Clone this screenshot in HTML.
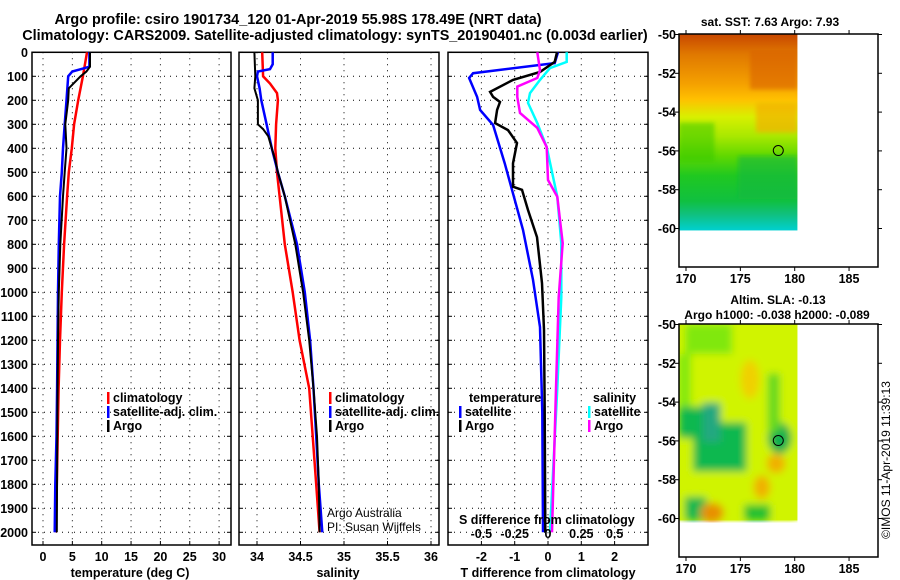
<!DOCTYPE html>
<html><head><meta charset="utf-8">
<style>
html,body{margin:0;padding:0;background:#fff;}
svg{display:block;font-family:"Liberation Sans",Arial,sans-serif;font-weight:bold;}
</style></head>
<body>
<svg id="chart" width="900" height="580" viewBox="0 0 900 580" xmlns="http://www.w3.org/2000/svg">
<defs>
<filter id="blur" x="0" y="0" width="1" height="1"><feGaussianBlur stdDeviation="4"/></filter>
<filter id="blur2" x="0" y="0" width="1" height="1"><feGaussianBlur stdDeviation="2"/></filter>
</defs>
<text x="298" y="24" font-size="14.4" text-anchor="middle">Argo profile: csiro 1901734_120 01-Apr-2019 55.98S 178.49E (NRT data)</text>
<text x="335" y="40" font-size="14.4" text-anchor="middle">Climatology: CARS2009. Satellite-adjusted climatology: synTS_20190401.nc (0.003d earlier)</text>
<g id="p1"></g>
<g id="p2"></g>
<g id="p3"></g>
<g id="m1"></g>
<g id="m2"></g>
<text transform="translate(890,460) rotate(-90)" font-size="12" font-weight="normal" text-anchor="middle">©IMOS 11-Apr-2019 11:39:13</text>
</svg>
<script>
// ---- data ----
const tArgoDepth=[0,60,80,100,150,200,300,400,500,600,800,1000,1200,1500,2000];
const tArgo=[8.0,8.0,7.4,6.4,4.4,4.3,3.8,4.0,3.7,3.4,2.95,2.7,2.55,2.45,2.35];
const tSatDepth=[0,60,70,80,100,200,300,400,500,600,800,1000,1400,1600,1800,2000];
const tSat=[7.9,7.9,6.5,5.0,4.3,4.0,3.7,3.4,3.2,2.9,2.7,2.55,2.4,2.3,2.1,2.0];
const tClimDepth=[0,100,200,300,400,500,600,800,1000,1200,1400,1600,2000];
const tClim=[7.5,6.8,6.0,5.3,4.9,4.4,4.1,3.6,3.2,2.9,2.65,2.5,2.2];

const sArgoDepth=[0,100,150,200,300,320,350,400,450,500,600,800,1000,1200,1400,1600,1800,2000];
const sArgo=[33.97,33.98,33.97,34.01,34.01,34.07,34.13,34.17,34.21,34.24,34.32,34.44,34.53,34.6,34.65,34.69,34.71,34.72];
const sSatDepth=[0,50,70,80,100,150,200,300,400,500,600,800,1000,1200,1400,1600,1800,2000];
const sSat=[34.18,34.18,34.15,34.01,34.0,34.03,34.05,34.11,34.17,34.24,34.32,34.46,34.55,34.61,34.65,34.68,34.71,34.75];
const sClimDepth=[0,100,130,170,200,300,400,500,600,800,1000,1200,1400,1600,1800,2000];
const sClim=[34.06,34.07,34.15,34.23,34.24,34.22,34.21,34.23,34.26,34.32,34.41,34.49,34.6,34.64,34.68,34.72];

const dtSatDepth=[0,45,87,107,186,240,303,462,573,740,948,1145,1500,2000];
const dtSat=[0.3,0.2,-2.25,-2.37,-2.13,-2.04,-1.65,-1.3,-1.08,-0.75,-0.45,-0.24,-0.17,-0.15];
const dtArgoDepth=[0,40,82,115,165,186,207,240,295,324,378,462,560,573,657,770,962,1157,1500,2000];
const dtArgo=[0.27,0.2,-0.24,-1.05,-1.74,-1.65,-1.44,-1.53,-1.59,-1.2,-0.93,-1.05,-1.05,-0.78,-0.6,-0.33,-0.18,-0.12,-0.1,-0.08];
const dsSatDepth=[0,40,66,115,170,211,295,395,602,795,1020,1400,2000];
const dsSat=[0.14,0.14,0.015,-0.06,-0.135,-0.15,-0.08,-0.01,0.07,0.1,0.1,0.07,0.015];
const dsArgoDepth=[0,74,107,143,186,253,315,395,532,602,795,1020,1400,2000];
const dsArgo=[-0.08,-0.06,-0.08,-0.23,-0.23,-0.21,-0.08,-0.01,0.0,0.07,0.11,0.08,0.06,0.03];

const depthTicks=[0,100,200,300,400,500,600,700,800,900,1000,1100,1200,1300,1400,1500,1600,1700,1800,1900,2000];
const tTicks=[0,5,10,15,20,25,30];
const sTicks=[34,34.5,35,35.5,36];
const sTickLabels=["34","34.5","35","35.5","36"];
const dtTicks=[-2,-1,0,1,2];
const dsTicks=[-0.5,-0.25,0,0.25,0.5];
const dsTickLabels=["-0.5","-0.25","0","0.25","0.5"];
const latTicks=[-50,-52,-54,-56,-58,-60];
const lonTicks=[170,175,180,185];
const floatLon=178.49, floatLat=-55.98;

// ---- helpers ----
const NS="http://www.w3.org/2000/svg";
function mk(parent,tag,attrs,text){const e=document.createElementNS(NS,tag);for(const k in attrs)e.setAttribute(k,attrs[k]);if(text!==undefined)e.textContent=text;parent.appendChild(e);return e;}
const TOP=52.3, BOT=545, PXM=0.24;
const yD=d=>TOP+d*PXM;

function panel(g,x0,x1,xs,xt,xtl,showDepth){
  const fr=mk(g,'rect',{x:x0,y:TOP,width:x1-x0,height:BOT-TOP,fill:'none',stroke:'#000','stroke-width':1.5});
  
  depthTicks.forEach(d=>{
    const y=yD(d);
    if(d>0){const l=mk(g,'line',{x1:x0,x2:x1,y1:y,y2:y,stroke:'#000','stroke-dasharray':'1,5','stroke-width':1});
    }
    mk(g,'line',{x1:x0,x2:x0+4,y1:y,y2:y,stroke:'#000'});
    mk(g,'line',{x1:x1-4,x2:x1,y1:y,y2:y,stroke:'#000'});
    if(showDepth){const t=mk(g,'text',{x:28,y:y+4.5,'font-size':12.5,'text-anchor':'end'},String(d));
    }
  });
  xt.forEach((v,i)=>{
    const x=xs(v);
    const l=mk(g,'line',{x1:x,x2:x,y1:TOP,y2:BOT,stroke:'#000','stroke-dasharray':'1,5','stroke-width':1});
    
    mk(g,'line',{x1:x,x2:x,y1:BOT-4,y2:BOT,stroke:'#000'});
    if(xtl){const t=mk(g,'text',{x:x,y:561,'font-size':12.5,'text-anchor':'middle'},xtl[i]);
    }
  });
}
function line(g,xs,depths,vals,color,name,w){
  const pts=depths.map((d,i)=>xs(vals[i]).toFixed(1)+','+yD(d).toFixed(1)).join(' ');
  const p=mk(g,'polyline',{points:pts,fill:'none',stroke:color,'stroke-width':w||2.5,'stroke-linejoin':'miter'});
  
  
}
function legend(g,x,y,color,label){
  mk(g,'rect',{x:x,y:y-10,width:2.5,height:12,fill:color});
  const t=mk(g,'text',{x:x+6,y:y,'font-size':12.5},label);
  
  
}

// Panel 1 temperature
const p1=document.getElementById('p1');
const xT=v=>43+5.87*v;
panel(p1,32,231,xT,tTicks,tTicks.map(String),true);
line(p1,xT,tClimDepth,tClim,'#f00','temp-climatology-line');
line(p1,xT,tSatDepth,tSat,'#00f','temp-satellite-line');
line(p1,xT,tArgoDepth,tArgo,'#000','temp-argo-line',2);
legend(p1,107,402,'#f00','climatology');
legend(p1,107,416,'#00f','satellite-adj. clim.');
legend(p1,107,430,'#000','Argo');
let t=mk(p1,'text',{x:130,y:577,'font-size':12.5,'text-anchor':'middle'},'temperature (deg C)');


// Panel 2 salinity
const p2=document.getElementById('p2');
const xS=v=>257+87*(v-34);
panel(p2,239,439,xS,sTicks,sTickLabels,false);
line(p2,xS,sClimDepth,sClim,'#f00','sal-climatology-line');
line(p2,xS,sSatDepth,sSat,'#00f','sal-satellite-line');
line(p2,xS,sArgoDepth,sArgo,'#000','sal-argo-line',2);
legend(p2,329,402,'#f00','climatology');
legend(p2,329,416,'#00f','satellite-adj. clim.');
legend(p2,329,430,'#000','Argo');
t=mk(p2,'text',{x:327,y:517,'font-size':12,'font-weight':'normal'},'Argo Australia');

t=mk(p2,'text',{x:327,y:531,'font-size':12,'font-weight':'normal'},'PI: Susan Wijffels');

t=mk(p2,'text',{x:338,y:577,'font-size':12.5,'text-anchor':'middle'},'salinity');


// Panel 3 differences
const p3=document.getElementById('p3');
const xDT=v=>548+33.3*v;
const xDS=v=>548+133.3*v;
panel(p3,448,648,xDT,dtTicks,dtTicks.map(String),false);
line(p3,xDT,dtSatDepth,dtSat,'#00f','tdiff-satellite-line');
line(p3,xDT,dtArgoDepth,dtArgo,'#000','tdiff-argo-line');
line(p3,xDS,dsSatDepth,dsSat,'#0ff','sdiff-satellite-line');
line(p3,xDS,dsArgoDepth,dsArgo,'#f0f','sdiff-argo-line');
t=mk(p3,'text',{x:469,y:402,'font-size':12.5},'temperature');

legend(p3,459,416,'#00f','satellite');
legend(p3,459,430,'#000','Argo');
t=mk(p3,'text',{x:593,y:402,'font-size':12.5},'salinity');

legend(p3,588,416,'#0ff','satellite');
legend(p3,588,430,'#f0f','Argo');
t=mk(p3,'text',{x:459,y:524,'font-size':12.5},'S difference from climatology');

dsTicks.forEach((v,i)=>{const e=mk(p3,'text',{x:xDS(v),y:538,'font-size':12.5,'text-anchor':'middle'},dsTickLabels[i]);
});
t=mk(p3,'text',{x:548,y:577,'font-size':12.5,'text-anchor':'middle'},'T difference from climatology');


// Maps
function map(g,top,title1,title2,fill){
  const lx=v=>686+10.87*(v-170);
  const ly=v=>top+0.5+19.4*(-50-v);
  const fr0=679, fr1=878, frB=top+233;
  fill(g,lx(169.35),ly(-50),lx(180.25)-lx(169.35),ly(-60.1)-ly(-50));
  const fr=mk(g,'rect',{x:fr0,y:top,width:fr1-fr0,height:frB-top,fill:'none',stroke:'#000','stroke-width':1.5});
  
  latTicks.forEach(v=>{const y=ly(v);
    mk(g,'line',{x1:fr0-4,x2:fr0,y1:y,y2:y,stroke:'#000'});
    mk(g,'line',{x1:fr1,x2:fr1+4,y1:y,y2:y,stroke:'#000'});
    const e=mk(g,'text',{x:676,y:y+4.5,'font-size':12.5,'text-anchor':'end'},String(v));
    });
  lonTicks.forEach(v=>{const x=lx(v);
    mk(g,'line',{x1:x,x2:x,y1:top-4,y2:top,stroke:'#000'});
    mk(g,'line',{x1:x,x2:x,y1:frB,y2:frB+4,stroke:'#000'});
    const e=mk(g,'text',{x:x,y:frB+16,'font-size':12.5,'text-anchor':'middle'},String(v));
    });
  const c=mk(g,'circle',{cx:lx(floatLon),cy:ly(floatLat),r:5,fill:'none',stroke:'#000','stroke-width':1});
  
  if(title2){
    let e=mk(g,'text',{x:778,y:top-20,'font-size':12,'text-anchor':'middle'},title1);
    
    e=mk(g,'text',{x:777,y:top-5,'font-size':12,'text-anchor':'middle'},title2);
    
  } else {
    const e=mk(g,'text',{x:770,y:top-8,'font-size':12,'text-anchor':'middle'},title1);
    
  }
}
const defs=document.querySelector('defs');
const g1=mk(defs,'linearGradient',{id:'sst',x1:0,y1:0,x2:0,y2:1});
[[0,'#c84800'],[0.1,'#e07800'],[0.25,'#f4a000'],[0.33,'#ffc000'],[0.42,'#d8f000'],[0.52,'#a8e800'],[0.62,'#60d800'],[0.72,'#20c820'],[0.85,'#10c040'],[0.92,'#10c080'],[1,'#00d0d0']].forEach(s=>mk(g1,'stop',{offset:s[0],'stop-color':s[1]}));
map(document.getElementById('m1'),34,'sat. SST: 7.63 Argo: 7.93',null,(g,x,y,w,h)=>{
  const r=mk(g,'rect',{x:x,y:y,width:w,height:h,fill:'url(#sst)'});
  
  const b=mk(g,'g',{filter:'url(#blur2)'});
  mk(b,'rect',{x:x+w*0.6,y:y+h*0.08,width:w*0.4,height:h*0.2,fill:'#d86000',opacity:0.6});
  mk(b,'rect',{x:x+w*0.65,y:y+h*0.35,width:w*0.35,height:h*0.15,fill:'#f4b000',opacity:0.7});
  mk(b,'rect',{x:x,y:y+h*0.45,width:w*0.3,height:h*0.2,fill:'#30c800',opacity:0.5});
  mk(b,'rect',{x:x+w*0.5,y:y+h*0.62,width:w*0.5,height:h*0.22,fill:'#10b840',opacity:0.6});
});
map(document.getElementById('m2'),324,'Altim. SLA: -0.13','Argo h1000: -0.038 h2000: -0.089',(g,x,y,w,h)=>{
  const r=mk(g,'rect',{x:x,y:y,width:w,height:h,fill:'#d0f400'});
  
  const b=mk(g,'g',{filter:'url(#blur)'});
  mk(b,'rect',{x:x,y:y,width:w,height:h,fill:'#d0f400'});
  mk(b,'rect',{x:x+w*0.05,y:y,width:w*0.4,height:h*0.15,fill:'#80e810'});
  mk(b,'rect',{x:x,y:y+h*0.15,width:w*0.1,height:h*0.3,fill:'#80e810'});
  mk(b,'rect',{x:x,y:y+h*0.42,width:w*0.32,height:h*0.16,fill:'#10b850'});
  mk(b,'rect',{x:x+w*0.12,y:y+h*0.5,width:w*0.45,height:h*0.25,fill:'#10b850'});
  mk(b,'rect',{x:x+w*0.2,y:y+h*0.4,width:w*0.15,height:h*0.2,fill:'#20a880'});
  mk(b,'ellipse',{cx:x+w*0.85,cy:y+h*0.58,rx:w*0.1,ry:h*0.08,fill:'#10b050'});
  mk(b,'rect',{x:x+w*0.75,y:y+h*0.25,width:w*0.1,height:h*0.3,fill:'#60d820'});
  mk(b,'rect',{x:x+w*0.05,y:y+h*0.88,width:w*0.18,height:h*0.12,fill:'#10b850'});
  mk(b,'rect',{x:x+w*0.55,y:y+h*0.92,width:w*0.22,height:h*0.08,fill:'#20c030'});
  mk(b,'ellipse',{cx:x+w*0.28,cy:y+h*0.96,rx:w*0.1,ry:h*0.05,fill:'#e89000'});
  mk(b,'ellipse',{cx:x+w*0.82,cy:y+h*0.71,rx:w*0.08,ry:h*0.05,fill:'#f0b000'});
  mk(b,'ellipse',{cx:x+w*0.7,cy:y+h*0.83,rx:w*0.07,ry:h*0.06,fill:'#f0b000'});
  mk(b,'ellipse',{cx:x+w*0.6,cy:y+h*0.28,rx:w*0.08,ry:h*0.1,fill:'#f0d000'});
});
</script>
</body></html>
